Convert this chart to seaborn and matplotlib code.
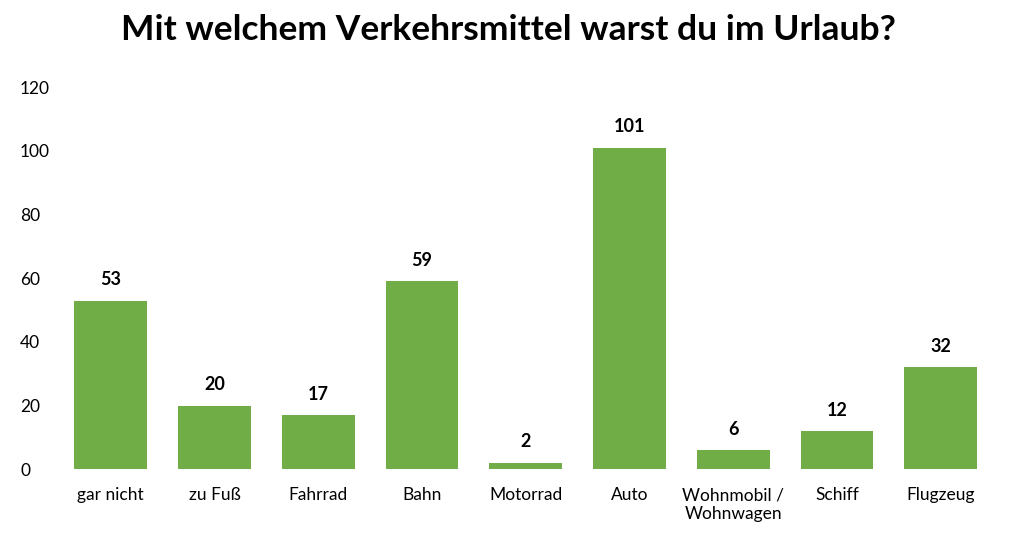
import matplotlib
matplotlib.use("Agg")
import matplotlib.pyplot as plt
import seaborn as sns
import pandas as pd

# -----------------------------
# Daten
kategorien = ['gar nicht', 'zu Fuß', 'Fahrrad', 'Bahn', 'Motorrad', 'Auto',
              'Wohnmobil /\nWohnwagen', 'Schiff', 'Flugzeug']
anzahl = [53, 20, 17, 59, 2, 101, 6, 12, 32]

df = pd.DataFrame({'Verkehrsmittel': kategorien, 'Anzahl': anzahl})

# -----------------------------
# Stil
sns.set_theme(style="white")
plt.rcParams['font.family'] = ['Lato', 'DejaVu Sans']
plt.rcParams['text.color'] = 'black'

fig = plt.figure(figsize=(10.16, 5.56), dpi=100)
ax = fig.add_axes([0.058, 0.156, 0.919, 0.687])

sns.barplot(data=df, x='Verkehrsmittel', y='Anzahl', color='#70AD47',
            width=0.7, saturation=1, linewidth=0, ax=ax)

ax.set_ylim(0, 120)
ax.set_yticks(range(0, 121, 20))
ax.set_xlabel('')
ax.set_ylabel('')
for s in ax.spines.values():
    s.set_visible(False)
ax.tick_params(axis='both', length=0, labelsize=12.5, labelcolor='black')
ax.tick_params(axis='x', pad=13)
ax.tick_params(axis='y', pad=28)
for lbl in ax.get_yticklabels():
    lbl.set_horizontalalignment('left')

for i, v in enumerate(anzahl):
    ax.annotate(f"{v}", (i, v), xytext=(0, 9), textcoords='offset points',
                ha='center', va='bottom', fontsize=13, fontweight='bold',
                color='black')

fig.suptitle("Mit welchem Verkehrsmittel warst du im Urlaub?", fontsize=25.5,
             fontweight='bold', y=0.975, color='black')

fig.savefig("out.png", dpi=100)
